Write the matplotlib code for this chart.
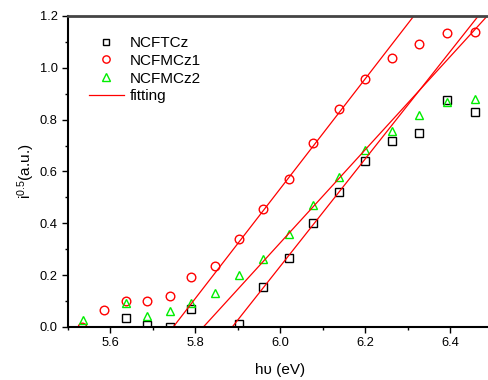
import numpy as np
import matplotlib.pyplot as plt

plt.rcParams["font.family"] = ["Liberation Sans", "DejaVu Sans"]
plt.rcParams["mathtext.fontset"] = "custom"
plt.rcParams["mathtext.rm"] = "Liberation Sans"
plt.rcParams["mathtext.it"] = "Liberation Sans"

# photon energy (eV) and sqrt(photocurrent)
x_tcz = [5.637, 5.687, 5.74, 5.79, 5.903, 5.96, 6.02, 6.077, 6.138, 6.2, 6.263, 6.327, 6.392, 6.459]
y_tcz = [0.035, 0.008, 0.0, 0.068, 0.012, 0.153, 0.266, 0.403, 0.519, 0.642, 0.718, 0.750, 0.874, 0.831]

x_mcz1 = [5.533, 5.585, 5.637, 5.687, 5.74, 5.79, 5.847, 5.903, 5.96, 6.02, 6.077, 6.138, 6.2, 6.263, 6.327, 6.392, 6.459]
y_mcz1 = [0.0, 0.066, 0.10, 0.10, 0.12, 0.193, 0.235, 0.338, 0.455, 0.570, 0.709, 0.840, 0.957, 1.037, 1.091, 1.135, 1.140]

x_mcz2 = [5.535, 5.637, 5.687, 5.74, 5.79, 5.847, 5.903, 5.96, 6.02, 6.077, 6.138, 6.2, 6.263, 6.327, 6.392, 6.459]
y_mcz2 = [0.027, 0.094, 0.042, 0.063, 0.094, 0.132, 0.200, 0.264, 0.358, 0.471, 0.577, 0.683, 0.757, 0.816, 0.868, 0.880]

# linear fits: (slope, x-intercept = threshold energy)
fits = [(2.07, 5.887), (2.117, 5.748), (1.794, 5.819)]

fig = plt.figure(figsize=(4.89, 3.80), dpi=100)
ax = fig.add_axes([0.139, 0.1395, 0.868, 0.8185])

ax.plot(x_tcz, y_tcz, ls="none", marker="s", ms=5.2, mfc="none", mec="black", mew=1.0, label="NCFTCz")
ax.plot(x_mcz1, y_mcz1, ls="none", marker="o", ms=6.2, mfc="none", mec="red", mew=1.0, label="NCFMCz1")
ax.plot(x_mcz2, y_mcz2, ls="none", marker="^", ms=6.4, mfc="none", mec="#00ee00", mew=1.0, label="NCFMCz2")

xx = np.linspace(5.5, 6.5, 50)
for i, (k, x0) in enumerate(fits):
    ax.plot(xx, k * (xx - x0), color="red", lw=0.9, label="fitting" if i == 0 else None)

ax.set_xlim(5.5, 6.5)
ax.set_ylim(0, 1.2)
ax.set_xticks([5.6, 5.8, 6.0, 6.2, 6.4])
ax.set_xticks(np.arange(5.5, 6.51, 0.1), minor=True)
ax.set_yticks(np.arange(0, 1.21, 0.2))
ax.set_yticks(np.arange(0, 1.21, 0.1), minor=True)
ax.tick_params(which="both", direction="out", labelsize=9.3, top=False, right=False)
ax.tick_params(which="major", length=4, width=1)
ax.tick_params(which="minor", length=2.5, width=1)
for s in ax.spines.values():
    s.set_linewidth(1.5)
ax.spines["top"].set_color("#444444")
ax.spines["top"].set_linewidth(2)

ax.set_xlabel("h\u03c5 (eV)", fontsize=11, labelpad=10)
ax.set_ylabel(r"i$^{0.5}$(a.u.)", fontsize=11, labelpad=2)

ax.legend(loc="upper left", bbox_to_anchor=(0.016, 0.98), frameon=False, fontsize=11,
          handlelength=2.3, handletextpad=0.4, labelspacing=0.25, markerscale=0.85)

fig.savefig("out.png", dpi=100)
